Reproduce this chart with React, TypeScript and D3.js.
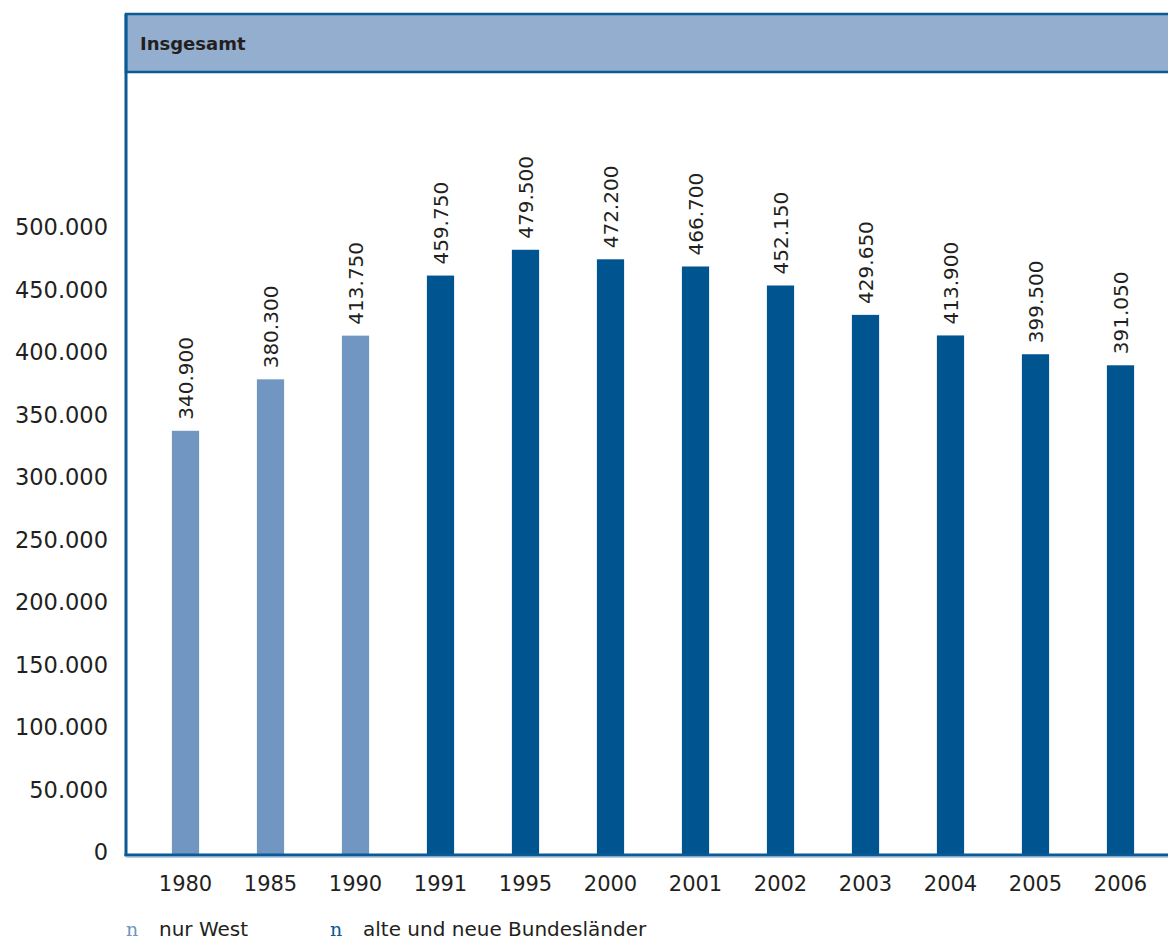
import * as d3 from 'd3';

const years = ['1980', '1985', '1990', '1991', '1995', '2000', '2001', '2002', '2003', '2004', '2005', '2006'];
const totals = [340900, 380300, 413750, 459750, 479500, 472200, 466700, 452150, 429650, 413900, 399500, 391050];
// first three years: only West Germany
const westOnly = [true, true, true, false, false, false, false, false, false, false, false, false];
const yTicks = [0, 50000, 100000, 150000, 200000, 250000, 300000, 350000, 400000, 450000, 500000];
const legendItems = [
  { label: 'nur West', west: true },
  { label: 'alte und neue Bundesländer', west: false },
];

const W = 1168;
const H = 940;
const LIGHT = '#7096c1';
const DARK = '#00548f';
const AXIS = '#0b5a96';
const HEADER = '#93aecf';
const TEXT = '#231f20';
const FONT = '"DejaVu Sans", "Open Sans", sans-serif';

const axisX = 126;
const baseY = 855;

export default function App() {
  const x = d3.scaleBand<string>().domain(years).range([143, 1163]).paddingInner(0.68).paddingOuter(0.34);
  // bars as drawn in the original
  const yBar = d3.scaleLinear().domain([0, 500000]).range([876, 223]);
  // tick label positions
  const yTick = d3.scaleLinear().domain([0, 500000]).range([852, 227]);
  const fmt = (v: number) => d3.format(',')(v).replace(/,/g, '.');

  return (
    <svg width={W} height={H} style={{ position: 'absolute', left: 0, top: 0, background: '#fff' }} fontFamily={FONT}>
      {/* header band */}
      <rect x={axisX} y={14} width={W} height={58} fill={HEADER} stroke={AXIS} strokeWidth={2.5} />
      <text x={140} y={50} fontSize={18} fontWeight="bold" fill={TEXT}>Insgesamt</text>

      {/* y tick labels */}
      {yTicks.map((t) => (
        <text key={t} x={108} y={yTick(t)} dy="0.36em" textAnchor="end" fontSize={22.5} fill={TEXT}>
          {fmt(t)}
        </text>
      ))}

      {/* bars */}
      {years.map((yr, i) => (
        <rect
          key={yr}
          x={x(yr)}
          y={yBar(totals[i])}
          width={x.bandwidth()}
          height={baseY - yBar(totals[i])}
          fill={westOnly[i] ? LIGHT : DARK}
        />
      ))}

      {/* value labels */}
      {years.map((yr, i) => {
        const cx = (x(yr) as number) + x.bandwidth() / 2;
        const ty = yBar(totals[i]) - 11;
        return (
          <text
            key={yr}
            transform={`translate(${cx},${ty}) rotate(-90)`}
            dy="0.36em"
            fontSize={20}
            fill={TEXT}
          >
            {fmt(totals[i])}
          </text>
        );
      })}

      {/* axis lines */}
      <line x1={axisX} x2={axisX} y1={14} y2={baseY + 1} stroke={AXIS} strokeWidth={3} />
      <line x1={axisX - 1.5} x2={W} y1={baseY} y2={baseY} stroke={AXIS} strokeWidth={3} />
      <line x1={axisX} x2={W} y1={baseY + 2.5} y2={baseY + 2.5} stroke="#b9cde3" strokeWidth={1} />

      {/* year labels */}
      {years.map((yr) => (
        <text
          key={yr}
          x={(x(yr) as number) + x.bandwidth() / 2}
          y={883}
          dy="0.36em"
          textAnchor="middle"
          fontSize={21}
          fill={TEXT}
        >
          {yr}
        </text>
      ))}

      {/* legend */}
      {legendItems.map((it, i) => {
        const lx = i === 0 ? 126 : 330;
        return (
          <g key={it.label}>
            <text x={lx} y={929} dy="0.36em" fontSize={19} fontFamily='"DejaVu Serif", serif' fill={it.west ? LIGHT : AXIS}>
              n
            </text>
            <text x={lx + 33} y={929} dy="0.36em" fontSize={20} fill={TEXT}>
              {it.label}
            </text>
          </g>
        );
      })}
    </svg>
  );
}
